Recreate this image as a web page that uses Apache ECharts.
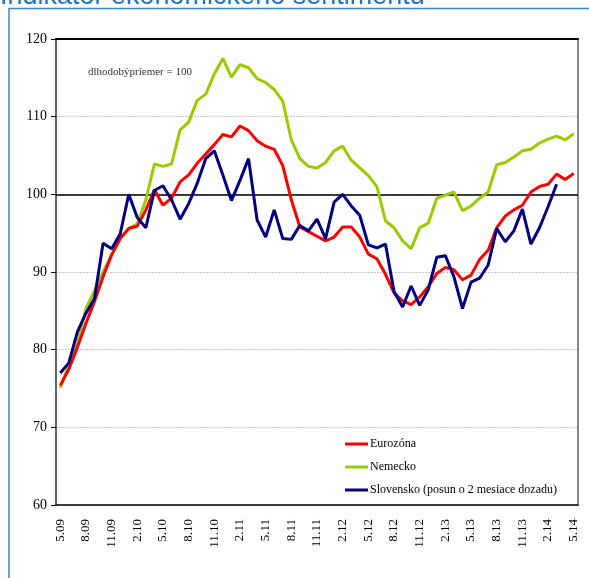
<!DOCTYPE html>
<html>
<head>
<meta charset="utf-8">
<script src="https://cdn.jsdelivr.net/npm/echarts@6/dist/echarts.min.js"></script>
<style>
  html, body { margin: 0; padding: 0; background: #fff; }
  #chart { width: 589px; height: 578px; }
</style>
</head>
<body>
<div id="chart"></div>
<script>
  // mesiace 5.09 .. 5.14
  var months = [];
  for (var y = 9; y <= 14; y++) {
    for (var m = 1; m <= 12; m++) {
      if ((y === 9 && m < 5) || (y === 14 && m > 5)) continue;
      months.push(m + '.' + (y < 10 ? '0' + y : y));
    }
  }

  var eurozona = [
    75.4, 77.5, 80.3, 83.4, 86.2, 89.4, 92.2, 94.3, 95.6, 95.9,
    98.0, 100.6, 98.6, 99.5, 101.6, 102.5, 104.0, 105.2, 106.4, 107.7,
    107.4, 108.8, 108.2, 106.9, 106.2, 105.8, 103.7, 99.3, 95.8, 95.2,
    94.6, 94.0, 94.5, 95.8, 95.8, 94.5, 92.3, 91.7, 89.7, 87.3,
    86.3, 85.8, 86.8, 88.1, 89.8, 90.6, 90.3, 89.0, 89.6, 91.6,
    92.8, 95.7, 97.2, 98.0, 98.6, 100.3, 101.0, 101.3, 102.6, 101.9,
    102.7
  ];
  var nemecko = [
    75.1, 78.0, 80.8, 85.3, 87.6, 90.0, 92.2, 94.3, 95.6, 96.2,
    99.3, 103.9, 103.6, 103.9, 108.3, 109.3, 112.1, 112.9, 115.5, 117.5,
    115.1, 116.7, 116.3, 114.9, 114.4, 113.5, 112.0, 107.0, 104.6, 103.6,
    103.4, 104.1, 105.6, 106.2, 104.4, 103.4, 102.4, 101.0, 96.6, 95.7,
    94.0, 93.0, 95.7, 96.3, 99.5, 99.9, 100.3, 97.9, 98.5, 99.5,
    100.3, 103.8, 104.1, 104.8, 105.6, 105.8, 106.6, 107.1, 107.5, 107.0,
    107.8
  ];
  // posun o 2 mesiace dozadu -> posledne dva mesiace chybaju
  var slovensko = [
    77.0, 78.3, 82.3, 84.7, 86.6, 93.7, 93.0, 94.9, 100.0, 97.0,
    95.7, 100.5, 101.1, 99.3, 96.8, 98.8, 101.4, 104.6, 105.6, 102.5,
    99.2, 101.8, 104.6, 96.7, 94.5, 98.0, 94.3, 94.2, 96.0, 95.3,
    96.8, 94.3, 99.0, 100.0, 98.5, 97.3, 93.5, 93.1, 93.6, 87.5,
    85.5, 88.2, 85.7, 87.7, 91.9, 92.1, 89.4, 85.3, 88.7, 89.2,
    90.9, 95.6, 93.9, 95.3, 98.1, 93.6, 95.7, 98.4, 101.3, null,
    null
  ];
  var longTermAverage = 100;

  var serif = '"Liberation Serif", "DejaVu Serif", serif';

  var chart = echarts.init(document.getElementById('chart'));
  chart.setOption({
    animation: false,
    backgroundColor: '#fff',
    title: {
      text: 'Indikátor ekonomického sentimentu',
      left: 0,
      top: -17,
      padding: 0,
      textStyle: {
        color: '#1f74c4',
        fontSize: 27,
        fontWeight: 'normal',
        fontFamily: '"Liberation Sans", Arial, sans-serif'
      }
    },
    graphic: [
      {
        type: 'polyline',
        shape: { points: [[9, 578], [9, 8.5], [589, 8.5]] },
        style: { stroke: '#3a86d0', lineWidth: 1.5, fill: null },
        silent: true
      },
      {
        type: 'text',
        left: 88,
        top: 67,
        style: {
          text: 'dlhodobýpriemer = 100',
          fill: '#333',
          font: '11px ' + serif
        }
      }
    ],
    grid: { left: 56, right: 11, top: 39, bottom: 73 },
    legend: {
      orient: 'vertical',
      left: 340,
      top: 432,
      icon: 'rect',
      itemWidth: 23,
      itemHeight: 3,
      itemGap: 9,
      textStyle: { fontFamily: serif, fontSize: 12, lineHeight: 14, color: '#000', padding: [0, 0, 0, -3] },
      data: ['Eurozóna', 'Nemecko', 'Slovensko (posun o 2 mesiace dozadu)']
    },
    xAxis: [
      {
        type: 'category',
        data: months,
        boundaryGap: true,
        axisLine: { lineStyle: { color: '#000', width: 1.5 } },
        axisTick: {
          length: 5,
          interval: function (i) { return i % 3 === 0; },
          lineStyle: { color: '#000' }
        },
        axisLabel: {
          interval: function (i) { return i % 3 === 0; },
          rotate: 90,
          margin: 14,
          fontFamily: serif,
          fontSize: 13,
          color: '#000'
        }
      },
      {
        type: 'category',
        data: months,
        position: 'top',
        axisLine: { lineStyle: { color: '#000', width: 2 } },
        axisTick: { show: false },
        axisLabel: { show: false }
      }
    ],
    yAxis: [
      {
        type: 'value',
        min: 60,
        max: 120,
        interval: 10,
        axisLine: { show: true, lineStyle: { color: '#333', width: 1.5 } },
        axisTick: { show: true, length: 5, lineStyle: { color: '#000' } },
        axisLabel: { margin: 9, fontFamily: serif, fontSize: 14, color: '#000' },
        splitLine: { lineStyle: { color: '#c8c8c8', type: [2, 1], width: 1 } }
      },
      {
        type: 'value',
        min: 60,
        max: 120,
        interval: 10,
        position: 'right',
        axisLine: { show: true, lineStyle: { color: '#888', width: 2 } },
        axisTick: { show: false },
        axisLabel: { show: false },
        splitLine: { show: false }
      }
    ],
    series: [
      {
        name: 'Eurozóna',
        type: 'line',
        data: eurozona,
        symbol: 'none',
        z: 3,
        lineStyle: { color: '#ff0000', width: 3 },
        itemStyle: { color: '#ff0000' },
        markLine: {
          silent: true,
          symbol: 'none',
          label: { show: false },
          lineStyle: { color: '#000', type: 'solid', width: 1.5 },
          data: [{ yAxis: longTermAverage }],
          z: 1
        }
      },
      {
        name: 'Nemecko',
        type: 'line',
        data: nemecko,
        symbol: 'none',
        z: 2,
        lineStyle: { color: '#99cc00', width: 3 },
        itemStyle: { color: '#99cc00' }
      },
      {
        name: 'Slovensko (posun o 2 mesiace dozadu)',
        type: 'line',
        data: slovensko,
        symbol: 'none',
        z: 4,
        lineStyle: { color: '#000080', width: 3 },
        itemStyle: { color: '#000080' }
      }
    ]
  });
</script>
</body>
</html>
